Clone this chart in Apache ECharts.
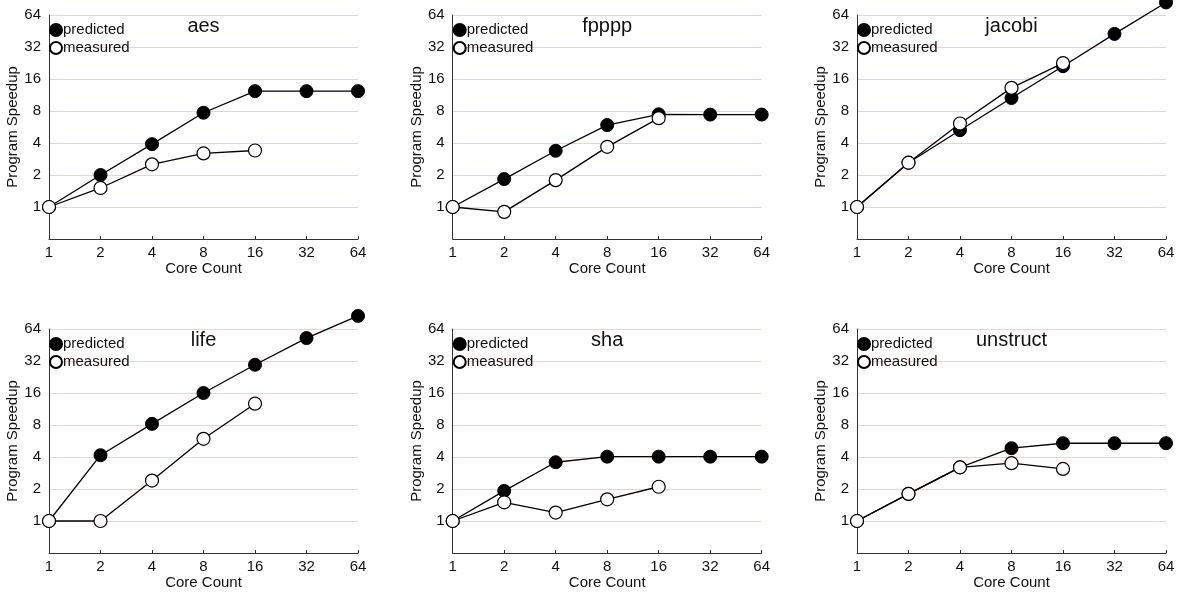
<!DOCTYPE html>
<html>
<head>
<meta charset="utf-8">
<style>html,body{margin:0;padding:0;background:#fff}#c{width:1178px;height:597px}</style>
<script src="https://cdn.jsdelivr.net/npm/echarts@6/dist/echarts.min.js"></script>
</head>
<body>
<div id="c"></div>
<script>
const cores = [1, 2, 4, 8, 16, 32, 64];
const yTicks = [1, 2, 4, 8, 16, 32, 64];
const benchNames = ['aes', 'fpppp', 'jacobi', 'life', 'sha', 'unstruct'];

const aesPredicted = [1, 2.0, 3.9, 7.7, 12.3, 12.3, 12.3];
const aesMeasured = [1, 1.51, 2.52, 3.19, 3.4];
const fppppPredicted = [1, 1.83, 3.38, 5.9, 7.45, 7.4, 7.4];
const fppppMeasured = [1, 0.9, 1.79, 3.68, 6.85];
const jacobiPredicted = [1, 2.61, 5.28, 10.6, 21.1, 42.5, 84];
const jacobiMeasured = [1, 2.61, 6.1, 13.2, 22.6];
const lifePredicted = [1, 4.16, 8.2, 16, 29.5, 52.6, 85];
const lifeMeasured = [1, 1, 2.4, 5.93, 12.7];
const shaPredicted = [1, 1.92, 3.57, 4.03, 4.03, 4.03, 4.03];
const shaMeasured = [1, 1.5, 1.2, 1.6, 2.1];
const unstructPredicted = [1, 1.8, 3.2, 4.84, 5.39, 5.39, 5.39];
const unstructMeasured = [1, 1.8, 3.2, 3.5, 3.09];

const predictedSets = [aesPredicted, fppppPredicted, jacobiPredicted, lifePredicted, shaPredicted, unstructPredicted];
const measuredSets = [aesMeasured, fppppMeasured, jacobiMeasured, lifeMeasured, shaMeasured, unstructMeasured];

const FONT = 'Liberation Sans, Arial, Helvetica, sans-serif';
const lefts = [49, 452.7, 857];
const tops = [15, 329];
const W = 309, H = 224;

const grids = [], xAxes = [], yAxes = [], series = [], titles = [], legends = [];
for (let i = 0; i < 6; i++) {
  const r = Math.floor(i / 3), c = i % 3;
  const L = lefts[c], T = tops[r];
  grids.push({left: L, top: T, width: W, height: H, containLabel: false});
  xAxes.push({
    gridIndex: i, type: 'log', logBase: 2, min: 1, max: 64,
    name: 'Core Count', nameLocation: 'middle', nameGap: 22,
    nameTextStyle: {fontFamily: FONT, fontSize: 15, color: '#111'},
    axisLine: {lineStyle: {color: '#333', width: 1}},
    axisTick: {show: true, inside: true, length: 3, lineStyle: {color: '#333'}},
    axisLabel: {fontFamily: FONT, fontSize: 15, color: '#111', margin: 6},
    splitLine: {show: false}, minorTick: {show: false}
  });
  yAxes.push({
    gridIndex: i, type: 'log', logBase: 2, min: 0.5, max: 64,
    name: 'Program Speedup', nameLocation: 'middle', nameGap: 28,
    nameTextStyle: {fontFamily: FONT, fontSize: 15, color: '#111'},
    axisLine: {show: true, lineStyle: {color: '#333', width: 1}},
    axisTick: {show: false},
    axisLabel: {fontFamily: FONT, fontSize: 15, color: '#111', margin: 8,
      formatter: v => (yTicks.indexOf(Math.round(v * 1000) / 1000) >= 0 ? String(Math.round(v)) : '')},
    splitLine: {show: true, lineStyle: {color: '#ffcccc', width: 1}},
    minorTick: {show: false}
  });
  titles.push({
    text: benchNames[i], left: L + W / 2, top: T + 1, textAlign: 'center', padding: 0,
    textStyle: {fontFamily: FONT, fontSize: 20, fontWeight: 'normal', color: '#111'}
  });
  legends.push({
    orient: 'vertical', left: L, top: T + 7, itemGap: 2, padding: 0,
    itemWidth: 12, itemHeight: 12, icon: 'circle',
    textStyle: {fontFamily: FONT, fontSize: 15, lineHeight: 16, color: '#111', padding: [0, 0, 0, -4]},
    data: ['predicted', 'measured'], selectedMode: false
  });
  series.push({
    name: 'predicted', type: 'line', xAxisIndex: i, yAxisIndex: i,
    data: cores.map((x, k) => [x, predictedSets[i][k]]),
    symbol: 'circle', symbolSize: 13, clip: false,
    lineStyle: {color: '#000', width: 1.3},
    itemStyle: {color: '#000', borderColor: '#000', borderWidth: 1},
    z: 3, animation: false
  });
  series.push({
    name: 'measured', type: 'line', xAxisIndex: i, yAxisIndex: i,
    data: measuredSets[i].map((y, k) => [cores[k], y]),
    symbol: 'circle', symbolSize: 13, clip: false, showAllSymbol: true,
    lineStyle: {color: '#000', width: 1.3},
    itemStyle: {color: '#fff', borderColor: '#000', borderWidth: 1.2},
    z: 4, animation: false
  });
}

const chart = echarts.init(document.getElementById('c'), null, {renderer: 'canvas'});
chart.setOption({
  backgroundColor: '#fff',
  animation: false,
  title: titles, legend: legends,
  grid: grids, xAxis: xAxes, yAxis: yAxes, series: series
});
</script>
</body>
</html>
